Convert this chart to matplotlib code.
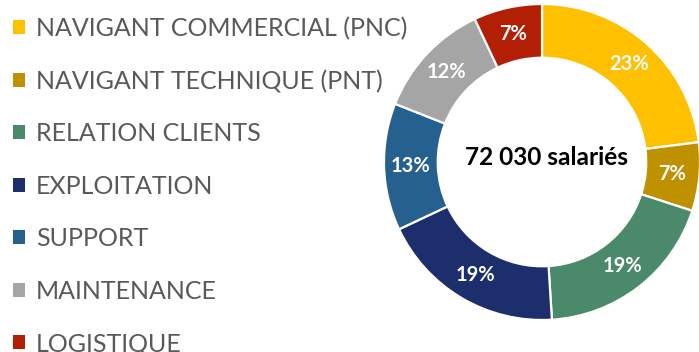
import matplotlib.pyplot as plt

plt.rcParams['font.family'] = ['Lato', 'DejaVu Sans']

categories = ['NAVIGANT COMMERCIAL (PNC)', 'NAVIGANT TECHNIQUE (PNT)', 'RELATION CLIENTS',
              'EXPLOITATION', 'SUPPORT', 'MAINTENANCE', 'LOGISTIQUE']
shares = [23, 7, 19, 19, 13, 12, 7]
colors = ['#FFC000', '#BF9000', '#4A8A6B', '#1C2E6B', '#26608F', '#A5A5A5', '#B21F05']
total_label = '72 030 salariés'

fig = plt.figure(figsize=(6.99, 3.52), dpi=100)

# donut on the right
lim = 1.02
R = 158
side = 2 * R * lim
cx, cy = 542, 162
ax = fig.add_axes([(cx - side / 2) / 699, (352 - cy - side / 2) / 352, side / 699, side / 352])
wedges, _, autotexts = ax.pie(shares, colors=colors, startangle=90, counterclock=False,
                              radius=1, autopct='%d%%', pctdistance=0.83,
                              wedgeprops=dict(width=0.34, edgecolor='white', linewidth=1.6),
                              textprops=dict(color='white', fontsize=14.5, fontweight='bold'))
ax.set_xlim(-lim, lim)
ax.set_ylim(-lim, lim)
ax.set_aspect('equal')
ax.text(0.03, 0.03, total_label, ha='center', va='center', fontsize=17.6,
        fontweight='bold', color='black')

# legend on the left
leg = fig.legend(wedges, categories, loc='upper left', bbox_to_anchor=(0.0, 0.988),
                 frameon=False, fontsize=18, labelcolor='#595959',
                 handlelength=0.48, handleheight=0.48, handletextpad=0.45,
                 labelspacing=1.18, borderaxespad=0.2, borderpad=0.3)
for h in leg.legend_handles:
    h.set_linewidth(0)

fig.savefig('out.png', dpi=100)
